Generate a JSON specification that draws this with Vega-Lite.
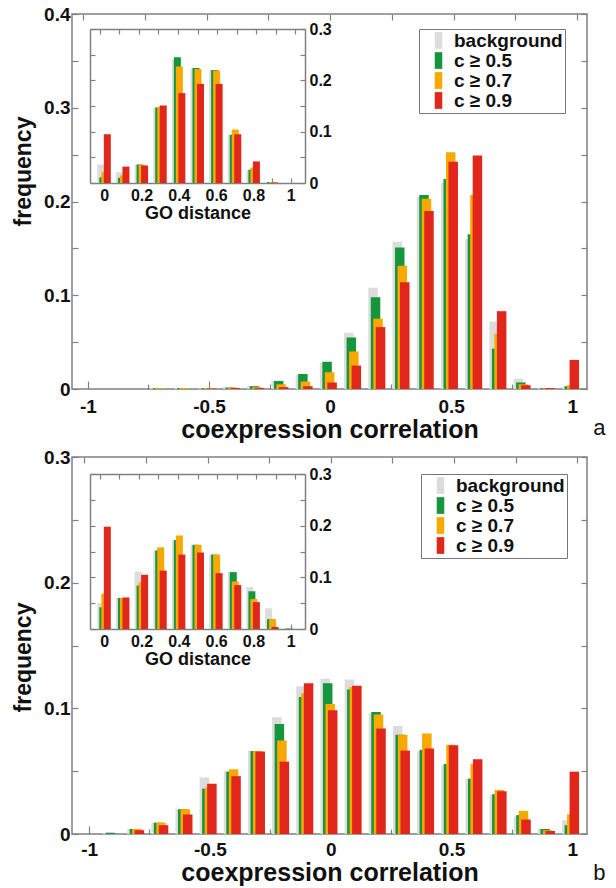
{
  "$schema": "https://vega.github.io/schema/vega-lite/v6.json",
  "padding": {"left": 11, "top": 4, "right": 0, "bottom": 0},
  "spacing": 4,
  "config": {
    "font": "Liberation Sans",
    "view": {"stroke": "#808080", "strokeWidth": 1.5},
    "axis": {"labelFont": "Liberation Sans", "labelFontWeight": "bold", "labelFontSize": 19, "labelColor": "#111", "titleFont": "Liberation Sans", "titleFontWeight": "bold", "titleColor": "#111", "tickColor": "#808080", "tickWidth": 1.2, "domainColor": "#808080", "domainWidth": 1.5, "grid": false},
    "legend": {"labelFont": "Liberation Sans"}
  },
  "resolve": {"scale": {"color": "independent"}, "legend": {"color": "independent"}},
  "datasets": {
    "bars": [
      {"p":"a","g":"m","s":"bg","x":-0.7,"f":0.001},{"p":"a","g":"m","s":"c5","x":-0.7,"f":0.001},{"p":"a","g":"m","s":"c7","x":-0.7,"f":0.001},{"p":"a","g":"m","s":"c9","x":-0.7,"f":0},
      {"p":"a","g":"m","s":"bg","x":-0.6,"f":0.001},{"p":"a","g":"m","s":"c5","x":-0.6,"f":0.001},{"p":"a","g":"m","s":"c7","x":-0.6,"f":0.001},{"p":"a","g":"m","s":"c9","x":-0.6,"f":0},
      {"p":"a","g":"m","s":"bg","x":-0.5,"f":0.001},{"p":"a","g":"m","s":"c5","x":-0.5,"f":0.001},{"p":"a","g":"m","s":"c7","x":-0.5,"f":0.001},{"p":"a","g":"m","s":"c9","x":-0.5,"f":0.0005},
      {"p":"a","g":"m","s":"bg","x":-0.4,"f":0.002},{"p":"a","g":"m","s":"c5","x":-0.4,"f":0.0015},{"p":"a","g":"m","s":"c7","x":-0.4,"f":0.0015},{"p":"a","g":"m","s":"c9","x":-0.4,"f":0.001},
      {"p":"a","g":"m","s":"bg","x":-0.3,"f":0.003},{"p":"a","g":"m","s":"c5","x":-0.3,"f":0.003},{"p":"a","g":"m","s":"c7","x":-0.3,"f":0.002},{"p":"a","g":"m","s":"c9","x":-0.3,"f":0.001},
      {"p":"a","g":"m","s":"bg","x":-0.2,"f":0.009},{"p":"a","g":"m","s":"c5","x":-0.2,"f":0.0085},{"p":"a","g":"m","s":"c7","x":-0.2,"f":0.005},{"p":"a","g":"m","s":"c9","x":-0.2,"f":0.002},
      {"p":"a","g":"m","s":"bg","x":-0.1,"f":0.015},{"p":"a","g":"m","s":"c5","x":-0.1,"f":0.016},{"p":"a","g":"m","s":"c7","x":-0.1,"f":0.008},{"p":"a","g":"m","s":"c9","x":-0.1,"f":0.003},
      {"p":"a","g":"m","s":"bg","x":0,"f":0.028},{"p":"a","g":"m","s":"c5","x":0,"f":0.029},{"p":"a","g":"m","s":"c7","x":0,"f":0.018},{"p":"a","g":"m","s":"c9","x":0,"f":0.007},
      {"p":"a","g":"m","s":"bg","x":0.1,"f":0.06},{"p":"a","g":"m","s":"c5","x":0.1,"f":0.055},{"p":"a","g":"m","s":"c7","x":0.1,"f":0.04},{"p":"a","g":"m","s":"c9","x":0.1,"f":0.025},
      {"p":"a","g":"m","s":"bg","x":0.2,"f":0.108},{"p":"a","g":"m","s":"c5","x":0.2,"f":0.098},{"p":"a","g":"m","s":"c7","x":0.2,"f":0.075},{"p":"a","g":"m","s":"c9","x":0.2,"f":0.066},
      {"p":"a","g":"m","s":"bg","x":0.3,"f":0.157},{"p":"a","g":"m","s":"c5","x":0.3,"f":0.151},{"p":"a","g":"m","s":"c7","x":0.3,"f":0.1315},{"p":"a","g":"m","s":"c9","x":0.3,"f":0.114},
      {"p":"a","g":"m","s":"bg","x":0.4,"f":0.205},{"p":"a","g":"m","s":"c5","x":0.4,"f":0.207},{"p":"a","g":"m","s":"c7","x":0.4,"f":0.203},{"p":"a","g":"m","s":"c9","x":0.4,"f":0.19},
      {"p":"a","g":"m","s":"bg","x":0.5,"f":0.22},{"p":"a","g":"m","s":"c5","x":0.5,"f":0.224},{"p":"a","g":"m","s":"c7","x":0.5,"f":0.2525},{"p":"a","g":"m","s":"c9","x":0.5,"f":0.2425},
      {"p":"a","g":"m","s":"bg","x":0.6,"f":0.16},{"p":"a","g":"m","s":"c5","x":0.6,"f":0.165},{"p":"a","g":"m","s":"c7","x":0.6,"f":0.207},{"p":"a","g":"m","s":"c9","x":0.6,"f":0.249},
      {"p":"a","g":"m","s":"bg","x":0.7,"f":0.072},{"p":"a","g":"m","s":"c5","x":0.7,"f":0.043},{"p":"a","g":"m","s":"c7","x":0.7,"f":0.059},{"p":"a","g":"m","s":"c9","x":0.7,"f":0.083},
      {"p":"a","g":"m","s":"bg","x":0.8,"f":0.011},{"p":"a","g":"m","s":"c5","x":0.8,"f":0.007},{"p":"a","g":"m","s":"c7","x":0.8,"f":0.005},{"p":"a","g":"m","s":"c9","x":0.8,"f":0.004},
      {"p":"a","g":"m","s":"bg","x":0.9,"f":0.001},{"p":"a","g":"m","s":"c5","x":0.9,"f":0.001},{"p":"a","g":"m","s":"c7","x":0.9,"f":0.001},{"p":"a","g":"m","s":"c9","x":0.9,"f":0.001},
      {"p":"a","g":"m","s":"bg","x":1,"f":0.002},{"p":"a","g":"m","s":"c5","x":1,"f":0.003},{"p":"a","g":"m","s":"c7","x":1,"f":0.004},{"p":"a","g":"m","s":"c9","x":1,"f":0.031},

      {"p":"a","g":"i","s":"bg","x":0,"f":0.036},{"p":"a","g":"i","s":"c5","x":0,"f":0.011},{"p":"a","g":"i","s":"c7","x":0,"f":0.021},{"p":"a","g":"i","s":"c9","x":0,"f":0.095},
      {"p":"a","g":"i","s":"bg","x":0.1,"f":0.021},{"p":"a","g":"i","s":"c5","x":0.1,"f":0.01},{"p":"a","g":"i","s":"c7","x":0.1,"f":0.015},{"p":"a","g":"i","s":"c9","x":0.1,"f":0.032},
      {"p":"a","g":"i","s":"bg","x":0.2,"f":0.036},{"p":"a","g":"i","s":"c5","x":0.2,"f":0.036},{"p":"a","g":"i","s":"c7","x":0.2,"f":0.035},{"p":"a","g":"i","s":"c9","x":0.2,"f":0.034},
      {"p":"a","g":"i","s":"bg","x":0.3,"f":0.147},{"p":"a","g":"i","s":"c5","x":0.3,"f":0.147},{"p":"a","g":"i","s":"c7","x":0.3,"f":0.148},{"p":"a","g":"i","s":"c9","x":0.3,"f":0.151},
      {"p":"a","g":"i","s":"bg","x":0.4,"f":0.24},{"p":"a","g":"i","s":"c5","x":0.4,"f":0.245},{"p":"a","g":"i","s":"c7","x":0.4,"f":0.227},{"p":"a","g":"i","s":"c9","x":0.4,"f":0.175},
      {"p":"a","g":"i","s":"bg","x":0.5,"f":0.223},{"p":"a","g":"i","s":"c5","x":0.5,"f":0.224},{"p":"a","g":"i","s":"c7","x":0.5,"f":0.222},{"p":"a","g":"i","s":"c9","x":0.5,"f":0.193},
      {"p":"a","g":"i","s":"bg","x":0.6,"f":0.22},{"p":"a","g":"i","s":"c5","x":0.6,"f":0.22},{"p":"a","g":"i","s":"c7","x":0.6,"f":0.219},{"p":"a","g":"i","s":"c9","x":0.6,"f":0.193},
      {"p":"a","g":"i","s":"bg","x":0.7,"f":0.094},{"p":"a","g":"i","s":"c5","x":0.7,"f":0.094},{"p":"a","g":"i","s":"c7","x":0.7,"f":0.104},{"p":"a","g":"i","s":"c9","x":0.7,"f":0.095},
      {"p":"a","g":"i","s":"bg","x":0.8,"f":0.025},{"p":"a","g":"i","s":"c5","x":0.8,"f":0.026},{"p":"a","g":"i","s":"c7","x":0.8,"f":0.03},{"p":"a","g":"i","s":"c9","x":0.8,"f":0.042},
      {"p":"a","g":"i","s":"bg","x":0.9,"f":0.002},{"p":"a","g":"i","s":"c5","x":0.9,"f":0.002},{"p":"a","g":"i","s":"c7","x":0.9,"f":0.002},{"p":"a","g":"i","s":"c9","x":0.9,"f":0.001},

      {"p":"b","g":"m","s":"bg","x":-0.9,"f":0.001},{"p":"b","g":"m","s":"c5","x":-0.9,"f":0.001},{"p":"b","g":"m","s":"c7","x":-0.9,"f":0},{"p":"b","g":"m","s":"c9","x":-0.9,"f":0},
      {"p":"b","g":"m","s":"bg","x":-0.8,"f":0.004},{"p":"b","g":"m","s":"c5","x":-0.8,"f":0.004},{"p":"b","g":"m","s":"c7","x":-0.8,"f":0.004},{"p":"b","g":"m","s":"c9","x":-0.8,"f":0.003},
      {"p":"b","g":"m","s":"bg","x":-0.7,"f":0.009},{"p":"b","g":"m","s":"c5","x":-0.7,"f":0.009},{"p":"b","g":"m","s":"c7","x":-0.7,"f":0.009},{"p":"b","g":"m","s":"c9","x":-0.7,"f":0.007},
      {"p":"b","g":"m","s":"bg","x":-0.6,"f":0.0197},{"p":"b","g":"m","s":"c5","x":-0.6,"f":0.0197},{"p":"b","g":"m","s":"c7","x":-0.6,"f":0.0197},{"p":"b","g":"m","s":"c9","x":-0.6,"f":0.0155},
      {"p":"b","g":"m","s":"bg","x":-0.5,"f":0.045},{"p":"b","g":"m","s":"c5","x":-0.5,"f":0.036},{"p":"b","g":"m","s":"c7","x":-0.5,"f":0.037},{"p":"b","g":"m","s":"c9","x":-0.5,"f":0.04},
      {"p":"b","g":"m","s":"bg","x":-0.4,"f":0.05},{"p":"b","g":"m","s":"c5","x":-0.4,"f":0.0496},{"p":"b","g":"m","s":"c7","x":-0.4,"f":0.0515},{"p":"b","g":"m","s":"c9","x":-0.4,"f":0.046},
      {"p":"b","g":"m","s":"bg","x":-0.3,"f":0.066},{"p":"b","g":"m","s":"c5","x":-0.3,"f":0.066},{"p":"b","g":"m","s":"c7","x":-0.3,"f":0.066},{"p":"b","g":"m","s":"c9","x":-0.3,"f":0.0656},
      {"p":"b","g":"m","s":"bg","x":-0.2,"f":0.093},{"p":"b","g":"m","s":"c5","x":-0.2,"f":0.0875},{"p":"b","g":"m","s":"c7","x":-0.2,"f":0.0744},{"p":"b","g":"m","s":"c9","x":-0.2,"f":0.0576},
      {"p":"b","g":"m","s":"bg","x":-0.1,"f":0.1176},{"p":"b","g":"m","s":"c5","x":-0.1,"f":0.109},{"p":"b","g":"m","s":"c7","x":-0.1,"f":0.112},{"p":"b","g":"m","s":"c9","x":-0.1,"f":0.12},
      {"p":"b","g":"m","s":"bg","x":0,"f":0.1235},{"p":"b","g":"m","s":"c5","x":0,"f":0.12},{"p":"b","g":"m","s":"c7","x":0,"f":0.1035},{"p":"b","g":"m","s":"c9","x":0,"f":0.0984},
      {"p":"b","g":"m","s":"bg","x":0.1,"f":0.123},{"p":"b","g":"m","s":"c5","x":0.1,"f":0.115},{"p":"b","g":"m","s":"c7","x":0.1,"f":0.117},{"p":"b","g":"m","s":"c9","x":0.1,"f":0.118},
      {"p":"b","g":"m","s":"bg","x":0.2,"f":0.096},{"p":"b","g":"m","s":"c5","x":0.2,"f":0.097},{"p":"b","g":"m","s":"c7","x":0.2,"f":0.095},{"p":"b","g":"m","s":"c9","x":0.2,"f":0.084},
      {"p":"b","g":"m","s":"bg","x":0.3,"f":0.086},{"p":"b","g":"m","s":"c5","x":0.3,"f":0.079},{"p":"b","g":"m","s":"c7","x":0.3,"f":0.079},{"p":"b","g":"m","s":"c9","x":0.3,"f":0.0664},
      {"p":"b","g":"m","s":"bg","x":0.4,"f":0.066},{"p":"b","g":"m","s":"c5","x":0.4,"f":0.067},{"p":"b","g":"m","s":"c7","x":0.4,"f":0.08},{"p":"b","g":"m","s":"c9","x":0.4,"f":0.068},
      {"p":"b","g":"m","s":"bg","x":0.5,"f":0.055},{"p":"b","g":"m","s":"c5","x":0.5,"f":0.0557},{"p":"b","g":"m","s":"c7","x":0.5,"f":0.071},{"p":"b","g":"m","s":"c9","x":0.5,"f":0.0706},
      {"p":"b","g":"m","s":"bg","x":0.6,"f":0.044},{"p":"b","g":"m","s":"c5","x":0.6,"f":0.044},{"p":"b","g":"m","s":"c7","x":0.6,"f":0.0557},{"p":"b","g":"m","s":"c9","x":0.6,"f":0.0595},
      {"p":"b","g":"m","s":"bg","x":0.7,"f":0.031},{"p":"b","g":"m","s":"c5","x":0.7,"f":0.0317},{"p":"b","g":"m","s":"c7","x":0.7,"f":0.035},{"p":"b","g":"m","s":"c9","x":0.7,"f":0.034},
      {"p":"b","g":"m","s":"bg","x":0.8,"f":0.014},{"p":"b","g":"m","s":"c5","x":0.8,"f":0.015},{"p":"b","g":"m","s":"c7","x":0.8,"f":0.0184},{"p":"b","g":"m","s":"c9","x":0.8,"f":0.0115},
      {"p":"b","g":"m","s":"bg","x":0.9,"f":0.004},{"p":"b","g":"m","s":"c5","x":0.9,"f":0.004},{"p":"b","g":"m","s":"c7","x":0.9,"f":0.003},{"p":"b","g":"m","s":"c9","x":0.9,"f":0.0024},
      {"p":"b","g":"m","s":"bg","x":1,"f":0.011},{"p":"b","g":"m","s":"c5","x":1,"f":0.007},{"p":"b","g":"m","s":"c7","x":1,"f":0.0157},{"p":"b","g":"m","s":"c9","x":1,"f":0.0496},

      {"p":"b","g":"i","s":"bg","x":0,"f":0.05},{"p":"b","g":"i","s":"c5","x":0,"f":0.042},{"p":"b","g":"i","s":"c7","x":0,"f":0.068},{"p":"b","g":"i","s":"c9","x":0,"f":0.198},
      {"p":"b","g":"i","s":"bg","x":0.1,"f":0.06},{"p":"b","g":"i","s":"c5","x":0.1,"f":0.06},{"p":"b","g":"i","s":"c7","x":0.1,"f":0.06},{"p":"b","g":"i","s":"c9","x":0.1,"f":0.061},
      {"p":"b","g":"i","s":"bg","x":0.2,"f":0.111},{"p":"b","g":"i","s":"c5","x":0.2,"f":0.084},{"p":"b","g":"i","s":"c7","x":0.2,"f":0.09},{"p":"b","g":"i","s":"c9","x":0.2,"f":0.105},
      {"p":"b","g":"i","s":"bg","x":0.3,"f":0.152},{"p":"b","g":"i","s":"c5","x":0.3,"f":0.152},{"p":"b","g":"i","s":"c7","x":0.3,"f":0.158},{"p":"b","g":"i","s":"c9","x":0.3,"f":0.113},
      {"p":"b","g":"i","s":"bg","x":0.4,"f":0.172},{"p":"b","g":"i","s":"c5","x":0.4,"f":0.172},{"p":"b","g":"i","s":"c7","x":0.4,"f":0.181},{"p":"b","g":"i","s":"c9","x":0.4,"f":0.144},
      {"p":"b","g":"i","s":"bg","x":0.5,"f":0.163},{"p":"b","g":"i","s":"c5","x":0.5,"f":0.163},{"p":"b","g":"i","s":"c7","x":0.5,"f":0.163},{"p":"b","g":"i","s":"c9","x":0.5,"f":0.148},
      {"p":"b","g":"i","s":"bg","x":0.6,"f":0.144},{"p":"b","g":"i","s":"c5","x":0.6,"f":0.144},{"p":"b","g":"i","s":"c7","x":0.6,"f":0.144},{"p":"b","g":"i","s":"c9","x":0.6,"f":0.108},
      {"p":"b","g":"i","s":"bg","x":0.7,"f":0.11},{"p":"b","g":"i","s":"c5","x":0.7,"f":0.11},{"p":"b","g":"i","s":"c7","x":0.7,"f":0.092},{"p":"b","g":"i","s":"c9","x":0.7,"f":0.085},
      {"p":"b","g":"i","s":"bg","x":0.8,"f":0.081},{"p":"b","g":"i","s":"c5","x":0.8,"f":0.073},{"p":"b","g":"i","s":"c7","x":0.8,"f":0.058},{"p":"b","g":"i","s":"c9","x":0.8,"f":0.052},
      {"p":"b","g":"i","s":"bg","x":0.9,"f":0.04},{"p":"b","g":"i","s":"c5","x":0.9,"f":0.019},{"p":"b","g":"i","s":"c7","x":0.9,"f":0.019},{"p":"b","g":"i","s":"c9","x":0.9,"f":0.004},
      {"p":"b","g":"i","s":"bg","x":1,"f":0.001},{"p":"b","g":"i","s":"c5","x":1,"f":0.001},{"p":"b","g":"i","s":"c7","x":1,"f":0},{"p":"b","g":"i","s":"c9","x":1,"f":0}
    ]
  },
  "vconcat": [
    {
      "width": 515, "height": 375,
      "data": {"name": "bars"},
      "transform": [{"filter": "datum.p == 'a'"}],
      "title": {"text": "a", "orient": "bottom", "anchor": "end", "font": "Liberation Sans", "fontSize": 22, "fontWeight": "normal", "color": "#111", "offset": -24, "dx": 18},
      "layer": [
        {
          "transform": [{"filter": "datum.g == 'm'"}],
          "encoding": {
            "x": {"field": "x", "type": "quantitative", "scale": {"domain": [-1.045, 1.04], "nice": false, "zero": false},
              "axis": {"orient": "bottom", "title": "coexpression correlation", "titleFontSize": 25, "titlePadding": -2, "values": [-1,-0.75,-0.5,-0.25,0,0.25,0.5,0.75,1], "format": "~g", "labelExpr": "abs(datum.value*2-round(datum.value*2))<0.001 ? replace(datum.label,'−','-') : ''", "tickSize": {"condition": {"test": "abs(datum.value*2-round(datum.value*2))<0.001", "value": -8}, "value": -5}, "domain": false, "labelFlush": false, "labelOverlap": false, "labelPadding": 16}},
            "y": {"field": "f", "type": "quantitative", "scale": {"domain": [0, 0.4], "nice": false},
              "axis": {"orient": "left", "title": "frequency", "titleFontSize": 23, "titlePadding": 8, "titleY": 157, "values": [0,0.05,0.1,0.15,0.2,0.25,0.3,0.35,0.4], "format": "~g", "labelExpr": "abs(datum.value*10-round(datum.value*10))<0.001 ? datum.label : ''", "tickSize": -6, "domain": false, "labelOverlap": false, "labelPadding": 8}},
            "color": {"field": "s", "type": "nominal", "scale": {"domain": ["bg","c5","c7","c9"], "range": ["#dcdcdc","#15963c","#f9a800","#e1261c"]},
              "legend": {"orient": "none", "legendX": 347, "legendY": 15, "title": null, "labelExpr": "{'bg':'background','c5':'c ≥ 0.5','c7':'c ≥ 0.7','c9':'c ≥ 0.9'}[datum.value]", "symbolType": "M-0.45,-1H0.45V1H-0.45Z", "symbolSize": 280, "symbolStrokeWidth": 0, "labelFontSize": 19, "labelFontWeight": "bold", "labelColor": "#111", "strokeColor": "#777", "fillColor": "white", "padding": 2, "rowPadding": 0, "symbolOffset": 8, "labelOffset": 6}}
          },
          "layer": [
            {"transform": [{"filter": "datum.s == 'bg'"}], "mark": {"type": "bar", "width": 9.5, "xOffset": -5.5}},
            {"transform": [{"filter": "datum.s == 'c5'"}], "mark": {"type": "bar", "width": 9.5, "xOffset": -3}},
            {"transform": [{"filter": "datum.s == 'c7'"}], "mark": {"type": "bar", "width": 9.5, "xOffset": -0.5}},
            {"transform": [{"filter": "datum.s == 'c9'"}], "mark": {"type": "bar", "width": 9.5, "xOffset": 2}}
          ]
        },
        {
          "transform": [{"filter": "datum.g == 'i'"}],
          "encoding": {
            "x": {"field": "x", "type": "quantitative", "scale": {"domain": [-0.05, 1.05], "range": [18, 233], "nice": false, "zero": false},
              "axis": {"orient": "bottom", "offset": -206, "title": "GO distance", "titleFontSize": 18, "titlePadding": 1, "labelFontSize": 16, "values": [0,0.1,0.2,0.3,0.4,0.5,0.6,0.7,0.8,0.9,1], "format": "~g", "labelExpr": "abs(datum.value*5-round(datum.value*5))<0.001 ? datum.label : ''", "tickSize": -5, "labelFlush": false, "labelOverlap": false, "labelPadding": 9}},
            "y": {"field": "f", "type": "quantitative", "scale": {"domain": [0, 0.3], "range": [169, 15], "nice": false},
              "axis": {"orient": "right", "offset": -282, "title": null, "labelFontSize": 16, "values": [0,0.05,0.1,0.15,0.2,0.25,0.3], "format": "~g", "labelExpr": "abs(datum.value*10-round(datum.value*10))<0.001 ? datum.label : ''", "tickSize": -5, "labelOverlap": false, "labelPadding": 9}}
          },
          "layer": [
            {"transform": [{"filter": "datum.s == 'bg'"}], "mark": {"type": "bar", "width": 7, "xOffset": -3.5, "color": "#dcdcdc"}},
            {"transform": [{"filter": "datum.s == 'c5'"}], "mark": {"type": "bar", "width": 7, "xOffset": -1.5, "color": "#15963c"}},
            {"transform": [{"filter": "datum.s == 'c7'"}], "mark": {"type": "bar", "width": 7, "xOffset": 0.5, "color": "#f9a800"}},
            {"transform": [{"filter": "datum.s == 'c9'"}], "mark": {"type": "bar", "width": 7, "xOffset": 3, "color": "#e1261c"}}
          ]
        },
        {
          "transform": [{"filter": "datum.g == 'i' && datum.s == 'bg'"}],
          "mark": {"type": "point", "opacity": 0},
          "encoding": {
            "x": {"datum": 0, "type": "quantitative", "scale": {"domain": [-0.05, 1.05], "range": [18, 233], "nice": false, "zero": false},
              "axis": {"orient": "top", "offset": -15, "title": null, "labels": false, "values": [0,0.1,0.2,0.3,0.4,0.5,0.6,0.7,0.8,0.9,1], "tickSize": -5}},
            "y": {"datum": 0, "type": "quantitative", "scale": {"domain": [0, 0.3], "range": [169, 15], "nice": false},
              "axis": {"orient": "left", "offset": -18, "title": null, "labels": false, "values": [0,0.05,0.1,0.15,0.2,0.25,0.3], "tickSize": -5}}
          }
        },
        {
          "transform": [{"filter": "datum.g == 'm' && datum.s == 'bg'"}],
          "mark": {"type": "point", "opacity": 0},
          "encoding": {
            "x": {"datum": 0, "type": "quantitative", "scale": {"domain": [-1.045, 1.04], "nice": false, "zero": false},
              "axis": {"orient": "top", "title": null, "labels": false, "domain": false, "values": [-1,-0.75,-0.5,-0.25,0,0.25,0.5,0.75,1], "tickSize": -6}},
            "y": {"datum": 0, "type": "quantitative", "scale": {"domain": [0, 0.4], "nice": false},
              "axis": {"orient": "right", "title": null, "labels": false, "domain": false, "values": [0,0.05,0.1,0.15,0.2,0.25,0.3,0.35,0.4], "tickSize": -6}}
          }
        }
      ],
      "resolve": {"scale": {"x": "independent", "y": "independent"}}
    },
    {
      "width": 515, "height": 377,
      "data": {"name": "bars"},
      "transform": [{"filter": "datum.p == 'b'"}],
      "title": {"text": "b", "orient": "bottom", "anchor": "end", "font": "Liberation Sans", "fontSize": 22, "fontWeight": "normal", "color": "#111", "offset": -22, "dx": 18},
      "layer": [
        {
          "transform": [{"filter": "datum.g == 'm'"}],
          "encoding": {
            "x": {"field": "x", "type": "quantitative", "scale": {"domain": [-1.05, 1.04], "nice": false, "zero": false},
              "axis": {"orient": "bottom", "title": "coexpression correlation", "titleFontSize": 25, "titlePadding": -2, "values": [-1,-0.75,-0.5,-0.25,0,0.25,0.5,0.75,1], "format": "~g", "labelExpr": "abs(datum.value*2-round(datum.value*2))<0.001 ? replace(datum.label,'−','-') : ''", "tickSize": {"condition": {"test": "abs(datum.value*2-round(datum.value*2))<0.001", "value": -8}, "value": -5}, "domain": false, "labelFlush": false, "labelOverlap": false, "labelPadding": 14}},
            "y": {"field": "f", "type": "quantitative", "scale": {"domain": [0, 0.3], "nice": false},
              "axis": {"orient": "left", "title": "frequency", "titleFontSize": 23, "titlePadding": 8, "titleY": 200, "values": [0,0.05,0.1,0.15,0.2,0.25,0.3], "format": "~g", "labelExpr": "abs(datum.value*10-round(datum.value*10))<0.001 ? datum.label : ''", "tickSize": -6, "domain": false, "labelOverlap": false, "labelPadding": 8}},
            "color": {"field": "s", "type": "nominal", "scale": {"domain": ["bg","c5","c7","c9"], "range": ["#dcdcdc","#15963c","#f9a800","#e1261c"]},
              "legend": {"orient": "none", "legendX": 349, "legendY": 17, "title": null, "labelExpr": "{'bg':'background','c5':'c ≥ 0.5','c7':'c ≥ 0.7','c9':'c ≥ 0.9'}[datum.value]", "symbolType": "M-0.45,-1H0.45V1H-0.45Z", "symbolSize": 280, "symbolStrokeWidth": 0, "labelFontSize": 19, "labelFontWeight": "bold", "labelColor": "#111", "strokeColor": "#777", "fillColor": "white", "padding": 2, "rowPadding": 0, "symbolOffset": 8, "labelOffset": 6}}
          },
          "layer": [
            {"transform": [{"filter": "datum.s == 'bg'"}], "mark": {"type": "bar", "width": 9.5, "xOffset": -5.5}},
            {"transform": [{"filter": "datum.s == 'c5'"}], "mark": {"type": "bar", "width": 9.5, "xOffset": -3}},
            {"transform": [{"filter": "datum.s == 'c7'"}], "mark": {"type": "bar", "width": 9.5, "xOffset": -0.5}},
            {"transform": [{"filter": "datum.s == 'c9'"}], "mark": {"type": "bar", "width": 9.5, "xOffset": 2}}
          ]
        },
        {
          "transform": [{"filter": "datum.g == 'i'"}],
          "encoding": {
            "x": {"field": "x", "type": "quantitative", "scale": {"domain": [-0.05, 1.05], "range": [18, 233], "nice": false, "zero": false},
              "axis": {"orient": "bottom", "offset": -205, "title": "GO distance", "titleFontSize": 18, "titlePadding": 1, "labelFontSize": 16, "values": [0,0.1,0.2,0.3,0.4,0.5,0.6,0.7,0.8,0.9,1], "format": "~g", "labelExpr": "abs(datum.value*5-round(datum.value*5))<0.001 ? datum.label : ''", "tickSize": -5, "labelFlush": false, "labelOverlap": false, "labelPadding": 9}},
            "y": {"field": "f", "type": "quantitative", "scale": {"domain": [0, 0.3], "range": [172, 17], "nice": false},
              "axis": {"orient": "right", "offset": -282, "title": null, "labelFontSize": 16, "values": [0,0.05,0.1,0.15,0.2,0.25,0.3], "format": "~g", "labelExpr": "abs(datum.value*10-round(datum.value*10))<0.001 ? datum.label : ''", "tickSize": -5, "labelOverlap": false, "labelPadding": 9}}
          },
          "layer": [
            {"transform": [{"filter": "datum.s == 'bg'"}], "mark": {"type": "bar", "width": 7, "xOffset": -3.5, "color": "#dcdcdc"}},
            {"transform": [{"filter": "datum.s == 'c5'"}], "mark": {"type": "bar", "width": 7, "xOffset": -1.5, "color": "#15963c"}},
            {"transform": [{"filter": "datum.s == 'c7'"}], "mark": {"type": "bar", "width": 7, "xOffset": 0.5, "color": "#f9a800"}},
            {"transform": [{"filter": "datum.s == 'c9'"}], "mark": {"type": "bar", "width": 7, "xOffset": 3, "color": "#e1261c"}}
          ]
        },
        {
          "transform": [{"filter": "datum.g == 'i' && datum.s == 'bg'"}],
          "mark": {"type": "point", "opacity": 0},
          "encoding": {
            "x": {"datum": 0, "type": "quantitative", "scale": {"domain": [-0.05, 1.05], "range": [18, 233], "nice": false, "zero": false},
              "axis": {"orient": "top", "offset": -17, "title": null, "labels": false, "values": [0,0.1,0.2,0.3,0.4,0.5,0.6,0.7,0.8,0.9,1], "tickSize": -5}},
            "y": {"datum": 0, "type": "quantitative", "scale": {"domain": [0, 0.3], "range": [172, 17], "nice": false},
              "axis": {"orient": "left", "offset": -18, "title": null, "labels": false, "values": [0,0.05,0.1,0.15,0.2,0.25,0.3], "tickSize": -5}}
          }
        },
        {
          "transform": [{"filter": "datum.g == 'm' && datum.s == 'bg'"}],
          "mark": {"type": "point", "opacity": 0},
          "encoding": {
            "x": {"datum": 0, "type": "quantitative", "scale": {"domain": [-1.05, 1.04], "nice": false, "zero": false},
              "axis": {"orient": "top", "title": null, "labels": false, "domain": false, "values": [-1,-0.75,-0.5,-0.25,0,0.25,0.5,0.75,1], "tickSize": -6}},
            "y": {"datum": 0, "type": "quantitative", "scale": {"domain": [0, 0.3], "nice": false},
              "axis": {"orient": "right", "title": null, "labels": false, "domain": false, "values": [0,0.05,0.1,0.15,0.2,0.25,0.3], "tickSize": -6}}
          }
        }
      ],
      "resolve": {"scale": {"x": "independent", "y": "independent"}}
    }
  ]
}
